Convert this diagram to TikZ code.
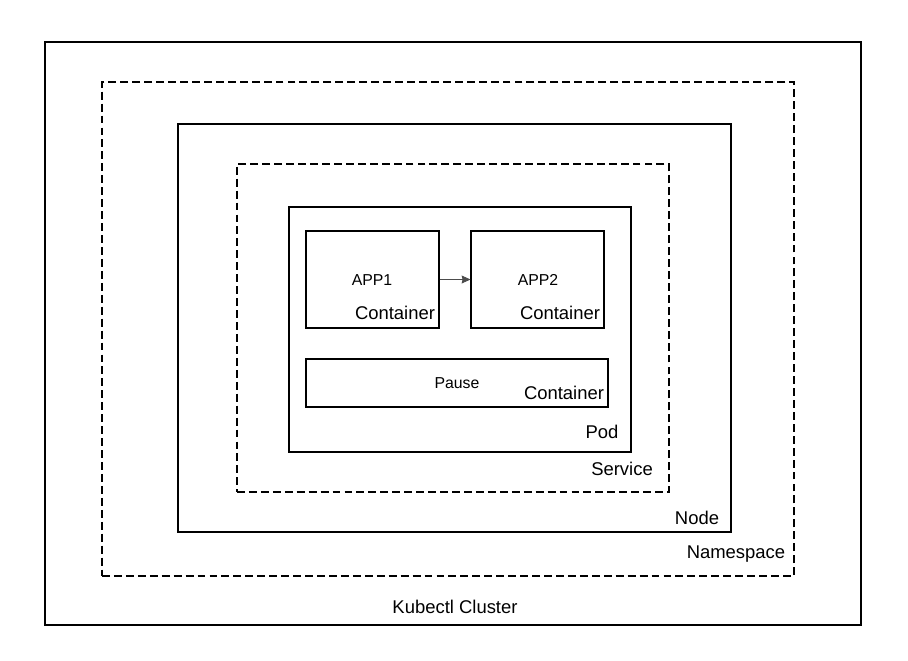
\documentclass[tikz,border=0pt]{standalone}
\usepackage{fontspec}
\setmainfont{Liberation Sans}
\usetikzlibrary{fit,arrows.meta}
\tikzset{
  box/.style={draw, inner sep=0pt},
  dbox/.style={draw, dash pattern=on 4.5pt off 2.3pt, inner sep=0pt},
  big/.style={font=\fontsize{10.5}{12}\selectfont},
  small/.style={font=\fontsize{9}{10}\selectfont},
}
\begin{document}
\begin{tikzpicture}[x=0.02cm, y=-0.02cm, line width=0.6pt]
\useasboundingbox (0,0) rectangle (908,660);
% nested frames
\node[box, fit={(45,42) (861,625)}] (cluster) {};
\node[dbox, fit={(102,82) (794,576)}] (ns) {};
\node[box, fit={(178,124) (731,532)}] (knode) {};
\node[dbox, fit={(237,164) (669,492)}] (svc) {};
\node[box, fit={(289,207) (631,452)}] (pod) {};
% containers
\node[box, fit={(306,231) (439,328)}] (app1) {};
\node[box, fit={(471,231) (604,328)}] (app2) {};
\node[box, fit={(306,359) (608,407)}] (pause) {};
\draw[-{Stealth[length=5pt,width=4.5pt,inset=0.5pt]}, gray!60!black, line width=0.5pt] (app1.east) -- (app2.west);
% labels
\node[small] (t_app1) at (372,280) {APP1};
\node[big] (t_c1) at (395,313) {Container};
\node[small] (t_app2) at (538,280) {APP2};
\node[big] (t_c2) at (560,313) {Container};
\node[small] (t_pause) at (457,383) {Pause};
\node[big] (t_c3) at (564,393) {Container};
\node[big] (t_pod) at (602,432) {Pod};
\node[big] (t_svc) at (622,469) {Service};
\node[big] (t_node) at (697,518) {Node};
\node[big] (t_ns) at (736,554) {Namespace};
\node[big] (t_cl) at (455,607) {Kubectl Cluster};
\end{tikzpicture}
\end{document}
